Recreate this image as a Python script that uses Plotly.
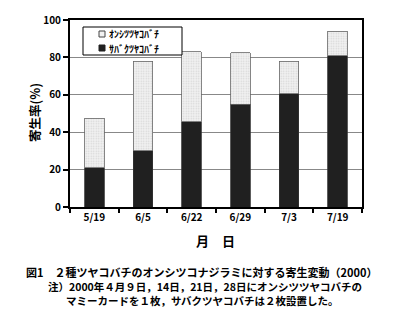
import plotly.graph_objects as go

dates = ["5/19", "6/5", "6/22", "6/29", "7/3", "7/19"]
sabaku = [21, 30, 45.5, 55, 60.5, 81]
onshitsu = [26.5, 48, 37.5, 27.5, 17.5, 13]
name_onshitsu = "ｵﾝｼﾂﾂﾔｺﾊﾞﾁ"
name_sabaku = "ｻﾊﾞｸﾂﾔｺﾊﾞﾁ"
y_ticks = [0, 20, 40, 60, 80, 100]

FONT = "Noto Sans CJK JP"
LIGHT, DARK = "#f2f2f2", "#202020"

fig = go.Figure()
fig.add_trace(go.Bar(
    x=dates, y=sabaku, name=name_sabaku, showlegend=False,
    marker=dict(color=DARK, line=dict(color="#333333", width=0.8)),
))
fig.add_trace(go.Bar(
    x=dates, y=onshitsu, name=name_onshitsu, showlegend=False,
    marker=dict(color=LIGHT, line=dict(color="#666666", width=0.8),
                pattern=dict(shape=".", fgcolor="#b8b8b8", bgcolor=LIGHT, size=2.5, solidity=0.3)),
))

fig.update_layout(
    width=400, height=315,
    margin=dict(l=70, r=38, t=20, b=108),
    barmode="stack", bargap=0.6,
    plot_bgcolor="white", paper_bgcolor="white",
    font=dict(family=FONT, color="black", size=10),
    showlegend=False,
)
fig.update_xaxes(
    showline=True, linecolor="black", linewidth=2, mirror=True,
    ticks="outside", tickson="boundaries", ticklen=4, tickwidth=1.5, tickcolor="black",
    tickfont=dict(family=FONT, size=10, weight="bold"),
    showgrid=False,
)
fig.update_yaxes(
    range=[0, 100], tickvals=y_ticks, showline=True, linecolor="black", linewidth=2, mirror=True,
    ticks="outside", ticklen=5, tickwidth=1.5, tickcolor="black",
    tickfont=dict(family=FONT, size=10, weight="bold"),
    showgrid=True, gridcolor="#888888", gridwidth=1, zeroline=False,
)

pw, ph = 400 - 70 - 38, 315 - 20 - 108
def px(x):
    return (x - 70) / pw
def py(y):
    return (315 - 108 - y) / ph

# legend box (drawn as layout shapes, pixel positions converted to paper)
fig.add_shape(type="rect", xref="paper", yref="paper",
              x0=px(83), x1=px(182), y0=py(55), y1=py(27),
              line=dict(color="black", width=1), fillcolor="white", layer="above")
legend_items = [(name_onshitsu, LIGHT, "#444444", 34), (name_sabaku, DARK, DARK, 48)]
for name, fill, edge, yc in legend_items:
    fig.add_shape(type="rect", xref="paper", yref="paper",
                  x0=px(99), x1=px(105), y0=py(yc + 3), y1=py(yc - 3),
                  line=dict(color=edge, width=1), fillcolor=fill, layer="above")
    fig.add_annotation(text=name, x=px(107), y=py(yc), xref="paper", yref="paper",
                       xanchor="left", yanchor="middle", showarrow=False,
                       font=dict(family=FONT, size=10, weight="bold", color="black"))

annots = [
    dict(text="寄生率(%)", x=34, y=113, textangle=-90, size=12.5),
    dict(text="月　日", x=215, y=240, size=13),
    dict(text="図1　２種ツヤコバチのオンシツコナジラミに対する寄生変動（2000）", x=201, y=272, size=11),
    dict(text="注）2000年４月９日，14日，21日，28日にオンシツツヤコバチの", x=205, y=286, size=10.5),
    dict(text="マミーカードを１枚，サバクツヤコバチは２枚設置した。", x=202, y=300, size=10.5),
]
for a in annots:
    fig.add_annotation(
        text=a["text"], x=px(a["x"]), y=py(a["y"]),
        xref="paper", yref="paper", xanchor="center", yanchor="middle",
        showarrow=False, textangle=a.get("textangle", 0),
        font=dict(family=FONT, size=a["size"], weight="bold", color="black"),
    )

fig.write_html("out.html")
